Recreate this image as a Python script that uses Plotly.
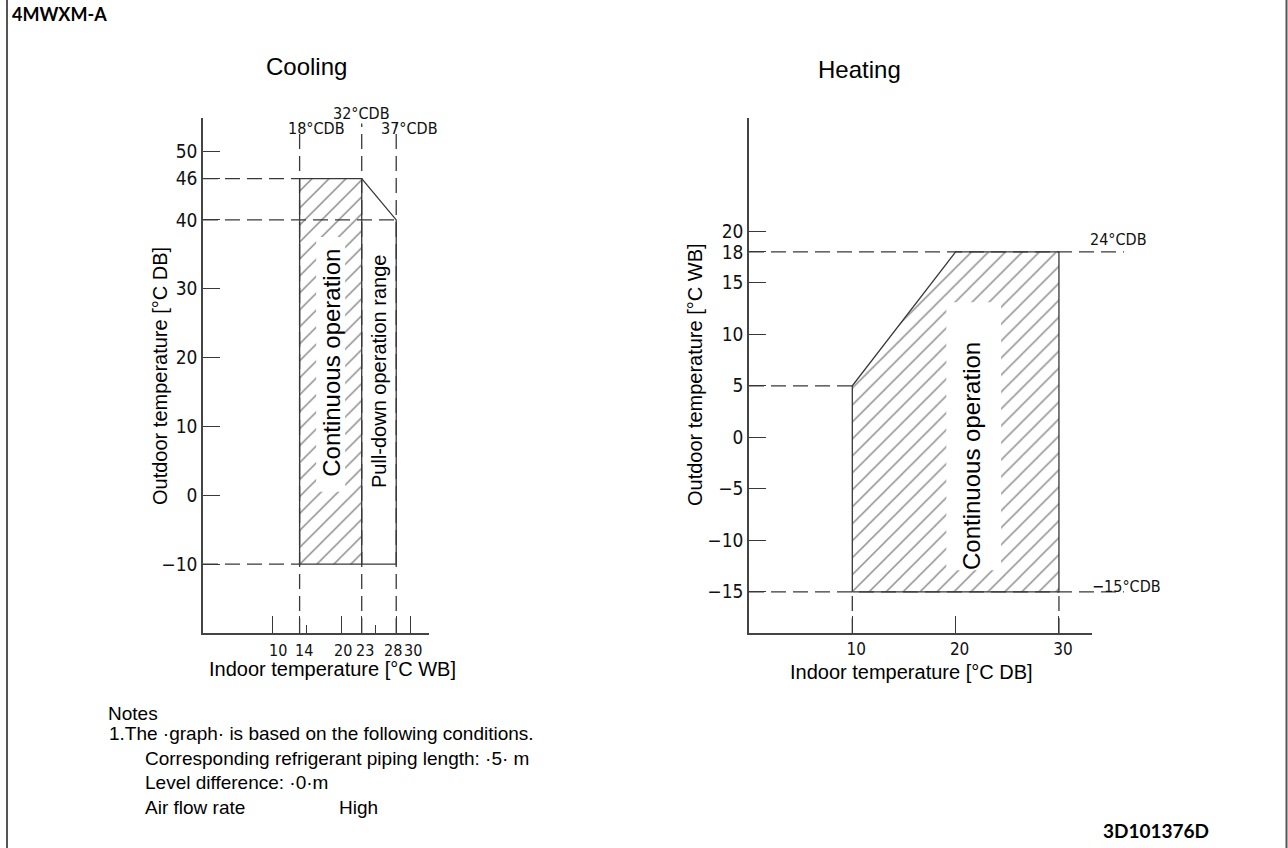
import plotly.graph_objects as go

W, H = 1288, 848

# ---------------- data ----------------
# Cooling: outdoor temperature (°C DB) vs indoor temperature (°C WB)
cool_x_ticks = [10, 14, 20, 23, 28, 30]
cool_x_text = ["10", "14", "20", "23", "28", "30"]
cool_x_minor = [15, 25]
cool_y_ticks = [50, 46, 40, 30, 20, 10, 0, -10, -20]
cool_y_text = ["50", "46", "40", "30", "20", "10", "0", "−10", ""]
cool_cont_x = [14, 14, 23, 23, 14]            # continuous operation zone
cool_cont_y = [-10, 46, 46, -10, -10]
cool_range_x = [14, 14, 23, 28, 28, 14]       # outline incl. pull-down zone
cool_range_y = [-10, 46, 46, 40, -10, -10]
cool_div_x = [23, 23]
cool_div_y = [-10, 46]
cool_ref_x = [14, 23, 28]                     # dashed verticals
cool_ref_labels = ["18°CDB", "32°CDB", "37°CDB"]
cool_ref_y = [46, 40, -10]                    # dashed horizontals
cool_ref_y_end = [14, 28, 14]
cool_gap_x = [16.4, 20.6]                     # unhatched strip around text
cool_gap_y = [0.5, 37.5]

# Heating: outdoor temperature (°C WB) vs indoor temperature (°C DB)
heat_x_ticks = [10, 20, 30]
heat_x_text = ["10", "20", "30"]
heat_y_ticks = [20, 18, 15, 10, 5, 0, -5, -10, -15]
heat_y_text = ["20", "18", "15", "10", "5", "0", "−5", "−10", "−15"]
heat_cont_x = [10, 10, 20, 30, 30, 10]
heat_cont_y = [-15, 5, 18, 18, -15, -15]
heat_ref_y = [18, 5, -15]                     # dashed horizontals
heat_ref_y_end = [36.3, 10, 36.3]
heat_ref_x = [10, 30]                         # dashed verticals (below zone)
heat_ref_labels = ["24°CDB", "−15°CDB"]
heat_gap_x = [19.1, 24.4]
heat_gap_y = [-12.9, 13.1]

notes_lines = [
    "Notes",
    "1.The ·graph· is based on the following conditions.",
    "Corresponding refrigerant piping length: ·5· m",
    "Level difference: ·0·m",
    "Air flow rate",
    "High",
]

# ---------------- styling ----------------
LC = "#383838"
DASH = "15px,7px"
NARROW = "Liberation Sans Narrow, DejaVu Sans Condensed, sans-serif"
TICKF = dict(family=NARROW, size=19, color="#111")
XTICKF = dict(family=NARROW, size=17, color="#111")
SANS = "Liberation Sans, Arial, sans-serif"
BOLD = "Lato, Open Sans, sans-serif"

COOL_XR = [0, 32.75]
COOL_YR = [-20, 54.8]
HEAT_XR = [0, 33.2]
HEAT_YR = [-19, 31]
# pixel frames of the plot areas
CX0, CX1 = 203, 429
HX0, HX1, HX3 = 749, 1092, 1140
PY0, PY1 = 118, 633
# small per-label horizontal nudges of the cooling x tick labels (pixels)
COOL_XLABEL_SHIFT = [6, 4, 2, 3, -3, 3]


def px(x):
    return x / W


def py(y):
    return 1 - y / H


HEAT_X3R = [0, HEAT_XR[1] * (HX3 - HX0) / (HX1 - HX0)]

fig = go.Figure()


def rect(xs, ys):
    return [xs[0], xs[1], xs[1], xs[0], xs[0]], [ys[0], ys[0], ys[1], ys[1], ys[0]]


def segs_v(xs, y0, y1):
    X, Y = [], []
    for x in xs:
        X += [x, x, None]
        Y += [y0, y1, None]
    return X, Y


def segs_h(ys, x0, ends):
    X, Y = [], []
    for y, e in zip(ys, ends):
        X += [x0, e, None]
        Y += [y, y, None]
    return X, Y


hatch = dict(shape="/", size=12, solidity=0.11, fgcolor="#000", bgcolor="white")
solid = dict(color=LC, width=1.3)
dashed = dict(color=LC, width=1.3, dash=DASH)

# ---- cooling ----
fig.add_trace(go.Scatter(x=cool_cont_x, y=cool_cont_y, mode="lines", fill="toself",
                         fillcolor="white", fillpattern=hatch, line=dict(width=0),
                         xaxis="x", yaxis="y"))
gx, gy = rect(cool_gap_x, cool_gap_y)
fig.add_trace(go.Scatter(x=gx, y=gy, mode="lines", fill="toself", fillcolor="white",
                         line=dict(width=0), xaxis="x", yaxis="y"))
vx, vy = segs_v(cool_ref_x, COOL_YR[0], 54)
fig.add_trace(go.Scatter(x=vx, y=vy, mode="lines", line=dashed, xaxis="x", yaxis="y"))
hx, hy = segs_h(cool_ref_y, COOL_XR[0], cool_ref_y_end)
fig.add_trace(go.Scatter(x=hx, y=hy, mode="lines", line=dashed, xaxis="x", yaxis="y"))
fig.add_trace(go.Scatter(x=cool_range_x, y=cool_range_y, mode="lines", line=solid,
                         xaxis="x", yaxis="y"))
fig.add_trace(go.Scatter(x=cool_div_x, y=cool_div_y, mode="lines", line=solid,
                         xaxis="x", yaxis="y"))

# ---- heating ----
fig.add_trace(go.Scatter(x=heat_cont_x, y=heat_cont_y, mode="lines", fill="toself",
                         fillcolor="white", fillpattern=hatch, line=dict(width=0),
                         xaxis="x2", yaxis="y2"))
gx, gy = rect(heat_gap_x, heat_gap_y)
fig.add_trace(go.Scatter(x=gx, y=gy, mode="lines", fill="toself", fillcolor="white",
                         line=dict(width=0), xaxis="x2", yaxis="y2"))
hx, hy = segs_h(heat_ref_y, HEAT_XR[0], heat_ref_y_end)
fig.add_trace(go.Scatter(x=hx, y=hy, mode="lines", line=dashed, xaxis="x3", yaxis="y2"))
vx, vy = segs_v(heat_ref_x, HEAT_YR[0], heat_cont_y[0])
fig.add_trace(go.Scatter(x=vx, y=vy, mode="lines", line=dashed, xaxis="x2", yaxis="y2"))
fig.add_trace(go.Scatter(x=heat_cont_x, y=heat_cont_y, mode="lines", line=solid,
                         xaxis="x2", yaxis="y2"))

axis_common = dict(showline=True, linecolor="#444", linewidth=1.6, showgrid=False,
                   zeroline=False, ticks="inside", ticklen=17, tickwidth=1.2,
                   tickcolor=LC, tickfont=TICKF, tickmode="array", fixedrange=True,
                   tickangle=0)

fig.update_layout(
    width=W, height=H, autosize=False,
    margin=dict(l=0, r=0, t=0, b=0),
    paper_bgcolor="white", plot_bgcolor="rgba(0,0,0,0)",
    showlegend=False, hovermode=False,
    # cooling x axis: tick marks from the axis, labels placed as annotations below
    xaxis=dict(axis_common, domain=[px(CX0), px(CX1)], range=COOL_XR, anchor="y",
               tickvals=cool_x_ticks, showticklabels=False,
               minor=dict(tickvals=cool_x_minor, ticks="inside", ticklen=8,
                          tickwidth=1.2, tickcolor=LC)),
    yaxis=dict(axis_common, domain=[py(PY1), py(PY0)], range=COOL_YR, anchor="x",
               tickvals=cool_y_ticks, ticktext=cool_y_text),
    xaxis2=dict(axis_common, domain=[px(HX0), px(HX1)], range=HEAT_XR, anchor="y2",
                tickvals=heat_x_ticks, ticktext=heat_x_text, tickfont=XTICKF,
                ticklabelshift=4),
    yaxis2=dict(axis_common, domain=[py(PY1), py(PY0)], range=HEAT_YR, anchor="x2",
                tickvals=heat_y_ticks, ticktext=heat_y_text),
    xaxis3=dict(domain=[px(HX0), px(HX3)], range=HEAT_X3R, anchor="y2", visible=False,
                fixedrange=True),
)

ann = []


def txt(text, x, y, size=19, family=SANS, xanchor="center", yanchor="middle",
        angle=0, xref="paper", yref="paper", bold=False, **kw):
    if bold:
        text = "<b>" + text + "</b>"
    ann.append(dict(text=text, x=x, y=y, xref=xref, yref=yref, showarrow=False,
                    xanchor=xanchor, yanchor=yanchor, textangle=angle,
                    font=dict(family=family, size=size, color="#111" if family == NARROW else "#000"),
                    borderpad=0, **kw))


# cooling x tick labels (on the data scale)
for v, t, s in zip(cool_x_ticks, cool_x_text, COOL_XLABEL_SHIFT):
    txt(t, v, py(650), size=16, family=NARROW, xref="x", xshift=s)

# header / footer
txt("4MWXM-A", px(11), py(14), size=18, family=BOLD, xanchor="left", bold=True)
txt("3D101376D", px(1210), py(830), size=19, family=BOLD, xanchor="right", bold=True)

# chart titles
txt("Cooling", px(306), py(66), size=24)
txt("Heating", px(859), py(70), size=24)

# axis titles
txt("Outdoor temperature [°C DB]", px(160), py(376), size=20, angle=-90)
txt("Outdoor temperature [°C WB]", px(695), py(375), size=20, angle=-90)
txt("Indoor temperature [°C WB]", px(333), py(669), size=20)
txt("Indoor temperature [°C DB]", px(911), py(672), size=20)

# zone texts
txt("Continuous operation", 18.5, 19.2, size=24, angle=-90, xref="x", yref="y")
txt("Pull-down operation range", 25.6, 18.0, size=20, angle=-90, xref="x", yref="y")
txt("Continuous operation", 21.6, -1.8, size=24, angle=-90, xref="x2", yref="y2")

# reference temperature labels (cooling)
txt(cool_ref_labels[0], 12.1, 53.3, size=16, family=NARROW, xanchor="left",
    xref="x", yref="y")
txt(cool_ref_labels[1], 23, 54.0, size=16, family=NARROW, yanchor="bottom",
    xref="x", yref="y")
txt(cool_ref_labels[2], 25.7, 53.3, size=16, family=NARROW, xanchor="left",
    xref="x", yref="y")

# reference temperature labels (heating)
txt(heat_ref_labels[0], 32.9, 19.2, size=16, family=NARROW, xanchor="left",
    xref="x3", yref="y2")
txt(heat_ref_labels[1], 33.1, -14.5, size=16, family=NARROW, xanchor="left",
    xref="x3", yref="y2")

# notes
txt(notes_lines[0], px(107), py(713), size=19, xanchor="left")
txt(notes_lines[1], px(108), py(733), size=19, xanchor="left")
txt(notes_lines[2], px(144), py(758), size=19, xanchor="left")
txt(notes_lines[3], px(144), py(782), size=19, xanchor="left")
txt(notes_lines[4], px(144), py(807), size=19, xanchor="left")
txt(notes_lines[5], px(338), py(807), size=19, xanchor="left")

fig.update_layout(annotations=ann)

# page frame
fig.update_layout(shapes=[
    dict(type="line", xref="paper", yref="paper", x0=px(7), x1=px(7), y0=0, y1=1,
         line=dict(color="#555", width=2)),
    dict(type="line", xref="paper", yref="paper", x0=px(1286.5), x1=px(1286.5), y0=0, y1=1,
         line=dict(color="#555", width=2)),
])

fig.write_html("out.html")
